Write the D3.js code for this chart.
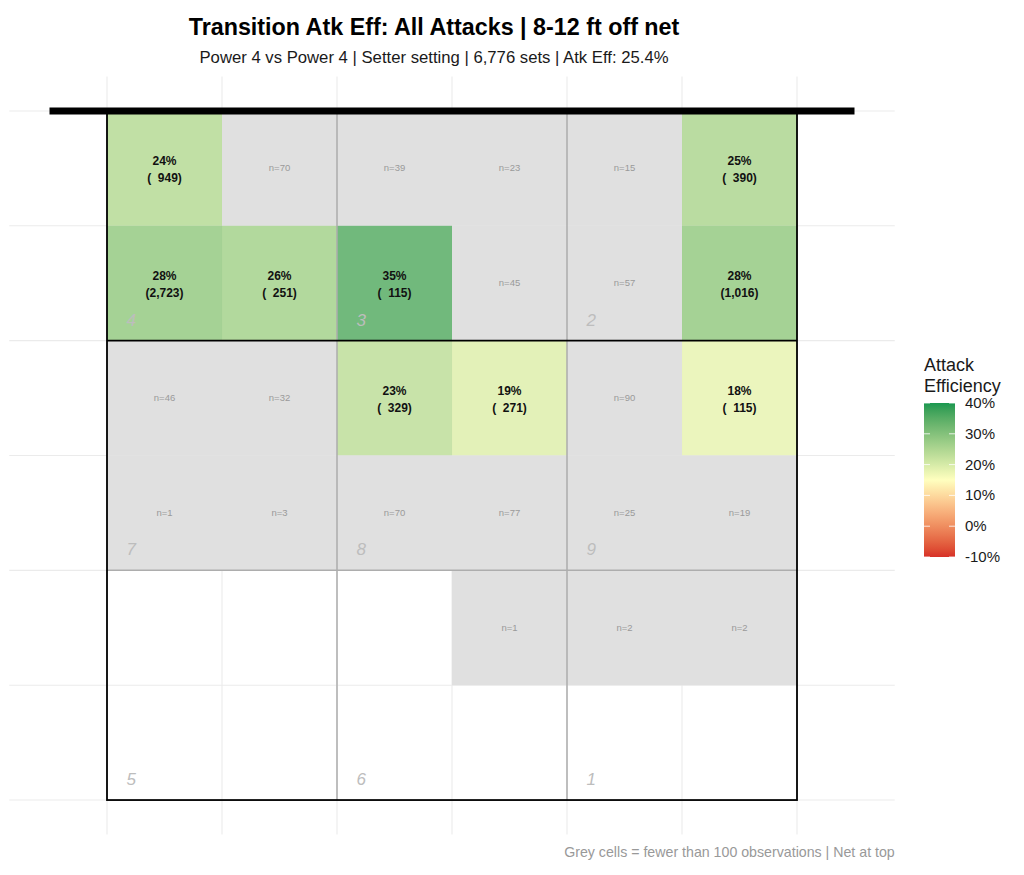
<!DOCTYPE html>
<html lang="en">
<head>
<meta charset="utf-8">
<title>Transition Atk Eff</title>
<script src="https://cdn.jsdelivr.net/npm/d3@7"></script>
<style>
  body { margin: 0; background: #fff; }
  text { font-family: "Liberation Sans", Arial, sans-serif; }
  .grid line { stroke: #ebebeb; stroke-width: 1.1; }
  .pre { white-space: pre; }
</style>
</head>
<body>
<script>
// ---- data (rows: net at top -> back line; columns: left -> right) ----
var counts = [
  [949, 70, 39, 23, 15, 390],
  [2723, 251, 115, 45, 57, 1016],
  [46, 32, 329, 271, 90, 115],
  [1, 3, 70, 77, 25, 19],
  [null, null, null, 1, 2, 2],
  [null, null, null, null, null, null]
];
var effs = [
  [0.24, null, null, null, null, 0.25],
  [0.28, 0.26, 0.35, null, null, 0.28],
  [null, null, 0.23, 0.19, null, 0.18],
  [null, null, null, null, null, null],
  [null, null, null, null, null, null],
  [null, null, null, null, null, null]
];
var zoneIds  = [4, 3, 2, 7, 8, 9, 5, 6, 1];
var zoneCols = [0, 2, 4, 0, 2, 4, 0, 2, 4];
var zoneRows = [0, 0, 0, 2, 2, 2, 4, 4, 4];
var legendBreaks = [-0.10, 0.00, 0.10, 0.20, 0.30, 0.40];
var minN = 100;

var title = "Transition Atk Eff: All Attacks | 8-12 ft off net";
var subtitle = "Power 4 vs Power 4 | Setter setting | 6,776 sets | Atk Eff: 25.4%";
var caption = "Grey cells = fewer than 100 observations | Net at top";

// flatten into cells
var cells = [];
counts.forEach(function(row, r) {
  row.forEach(function(n, c) {
    if (n !== null) cells.push({r: r, c: c, n: n, eff: effs[r][c]});
  });
});

var W = 1024, H = 875;
var svg = d3.select("body").append("svg")
  .attr("width", W).attr("height", H);

var x = d3.scaleLinear().domain([-0.85, 6.85]).range([9.25, 894.75]);
var y = d3.scaleLinear().domain([-0.3, 6.3]).range([76.5, 834.5]);

var fill = d3.scaleLinear()
  .domain([-0.10, 0.15, 0.40])
  .range(["#d73027", "#ffffbf", "#1a9850"])
  .interpolate(d3.interpolateLab)
  .clamp(true);

// panel grid
var grid = svg.append("g").attr("class", "grid");
grid.selectAll(".gx").data(d3.range(0, 7)).enter().append("line")
  .attr("x1", function(d) { return x(d); }).attr("x2", function(d) { return x(d); })
  .attr("y1", y(-0.3)).attr("y2", y(6.3));
grid.selectAll(".gy").data(d3.range(0, 7)).enter().append("line")
  .attr("y1", function(d) { return y(d); }).attr("y2", function(d) { return y(d); })
  .attr("x1", x(-0.85)).attr("x2", x(6.85));

// tiles
svg.append("g").selectAll("rect").data(cells).enter().append("rect")
  .attr("x", function(d) { return x(d.c); })
  .attr("y", function(d) { return y(d.r); })
  .attr("width", x(1) - x(0))
  .attr("height", y(1) - y(0))
  .attr("fill", function(d) { return d.n >= minN ? fill(d.eff) : "#e0e0e0"; })
  .attr("fill-opacity", function(d) { return d.n >= minN ? 0.85 : 1; });

// zone divider lines (grey)
var zl = svg.append("g").attr("stroke", "#adadad").attr("stroke-width", 1.5);
[2, 4].forEach(function(v) {
  zl.append("line").attr("x1", x(v)).attr("x2", x(v)).attr("y1", y(0)).attr("y2", y(6));
});
zl.append("line").attr("x1", x(0)).attr("x2", x(6)).attr("y1", y(4)).attr("y2", y(4));

// court outline + attack line
svg.append("rect")
  .attr("x", x(0)).attr("y", y(0))
  .attr("width", x(6) - x(0)).attr("height", y(6) - y(0))
  .attr("fill", "none").attr("stroke", "#000").attr("stroke-width", 1.8);
svg.append("line")
  .attr("x1", x(0)).attr("x2", x(6)).attr("y1", y(2)).attr("y2", y(2))
  .attr("stroke", "#000").attr("stroke-width", 1.8);

// zone numbers
svg.append("g").selectAll("text").data(zoneIds).enter().append("text")
  .attr("x", function(d, i) { return x(zoneCols[i] + 0.17); })
  .attr("y", function(d, i) { return y(zoneRows[i] + 2) - 15; })
  .attr("font-size", 17).attr("font-style", "italic").attr("fill", "#bdbdbd")
  .text(function(d) { return d; });

// cell labels
var fmtN = d3.format(",");
var big = cells.filter(function(d) { return d.n >= minN; });
var small = cells.filter(function(d) { return d.n < minN; });

var lab = svg.append("g").selectAll("text").data(big).enter().append("text")
  .attr("class", "pre")
  .attr("text-anchor", "middle")
  .attr("font-size", 12).attr("font-weight", "bold").attr("fill", "#111");
lab.append("tspan")
  .attr("x", function(d) { return x(d.c + 0.5); })
  .attr("y", function(d) { return y(d.r + 0.5) - 3.5; })
  .text(function(d) { return Math.round(d.eff * 100) + "%"; });
lab.append("tspan")
  .attr("x", function(d) { return x(d.c + 0.5); })
  .attr("y", function(d) { return y(d.r + 0.5) + 13.5; })
  .text(function(d) { return "(" + fmtN(d.n).padStart(5, " ") + ")"; });

svg.append("g").selectAll("text").data(small).enter().append("text")
  .attr("x", function(d) { return x(d.c + 0.5); })
  .attr("y", function(d) { return y(d.r + 0.5) + 3; })
  .attr("text-anchor", "middle")
  .attr("font-size", 9.5).attr("fill", "#9a9a9a")
  .text(function(d) { return "n=" + d.n; });

// net
svg.append("line")
  .attr("x1", x(-0.5)).attr("x2", x(6.5)).attr("y1", y(0)).attr("y2", y(0))
  .attr("stroke", "#000").attr("stroke-width", 7);

// titles
var cx = 434;
svg.append("text").attr("x", cx).attr("y", 35).attr("text-anchor", "middle")
  .attr("font-size", 23.3).attr("font-weight", "bold").attr("fill", "#000").text(title);
svg.append("text").attr("x", cx).attr("y", 63).attr("text-anchor", "middle")
  .attr("font-size", 16.7).attr("fill", "#1a1a1a").text(subtitle);
svg.append("text").attr("x", x(6.85)).attr("y", 857).attr("text-anchor", "end")
  .attr("font-size", 14.2).attr("fill", "#999").text(caption);

// legend
var lg = svg.append("g");
lg.append("text").attr("x", 924).attr("y", 371).attr("font-size", 18).attr("fill", "#1a1a1a").text("Attack");
lg.append("text").attr("x", 924).attr("y", 392).attr("font-size", 18).attr("fill", "#1a1a1a").text("Efficiency");

var ly = d3.scaleLinear().domain([-0.10, 0.40]).range([557, 403]);
var defs = svg.append("defs");
var grad = defs.append("linearGradient").attr("id", "lgGrad")
  .attr("x1", 0).attr("y1", 1).attr("x2", 0).attr("y2", 0);
grad.selectAll("stop").data(d3.range(0, 21)).enter().append("stop")
  .attr("offset", function(d) { return d / 20; })
  .attr("stop-color", function(d) { return fill(-0.10 + 0.5 * d / 20); });
var bx0 = 924, bw = 31;
lg.append("rect").attr("x", bx0).attr("y", ly(0.40)).attr("width", bw)
  .attr("height", ly(-0.10) - ly(0.40)).attr("fill", "url(#lgGrad)");
lg.selectAll(".tk").data(legendBreaks).enter().append("g").each(function(d) {
  var g = d3.select(this);
  g.append("line").attr("x1", bx0).attr("x2", bx0 + 6).attr("y1", ly(d)).attr("y2", ly(d))
    .attr("stroke", "#fff").attr("stroke-opacity", 0.8);
  g.append("line").attr("x1", bx0 + bw - 6).attr("x2", bx0 + bw).attr("y1", ly(d)).attr("y2", ly(d))
    .attr("stroke", "#fff").attr("stroke-opacity", 0.8);
});
lg.selectAll(".lb").data(legendBreaks).enter().append("text")
  .attr("x", bx0 + bw + 10).attr("y", function(d) { return ly(d) + 5; })
  .attr("font-size", 15).attr("fill", "#1a1a1a")
  .text(function(d) { return Math.round(d * 100) + "%"; });
</script>
</body>
</html>
